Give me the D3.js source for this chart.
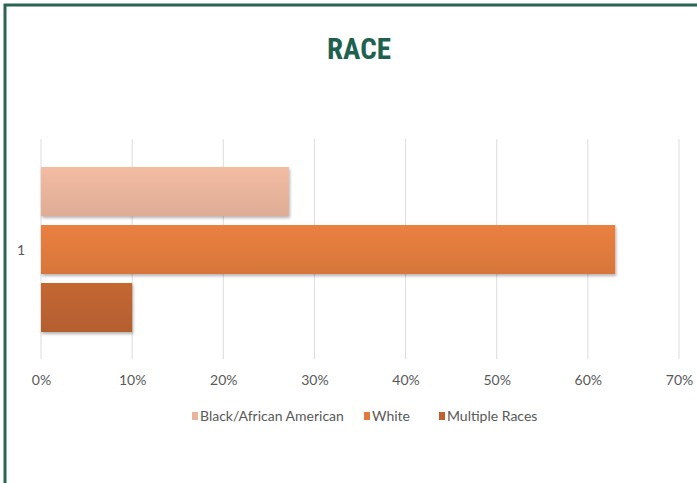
<!DOCTYPE html>
<html>
<head>
<meta charset="utf-8">
<script src="https://cdn.jsdelivr.net/npm/d3@7"></script>
<style>
  body { margin: 0; background: #fff; }
  svg { display: block; }
</style>
</head>
<body>
<svg id="chart" width="697" height="483"></svg>
<script>
var categories = ["1"];
var seriesNames = ["Black/African American", "White", "Multiple Races"];
var seriesValues = [0.272, 0.63, 0.10];
var seriesColors = ["#e9b49c", "#e07b3d", "#bc6331"];
var tickValues = [0, 0.1, 0.2, 0.3, 0.4, 0.5, 0.6, 0.7];

var svg = d3.select("#chart");

// frame (only left + top edges show)
svg.append("path")
    .attr("d", "M5,483 V5 H697")
    .attr("fill", "none")
    .attr("stroke", "#2a6553")
    .attr("stroke-width", 3);

svg.append("text")
    .attr("x", 359)
    .attr("y", 59)
    .attr("text-anchor", "middle")
    .style("font-family", "'Liberation Sans Narrow', 'Roboto Condensed', sans-serif")
    .style("font-weight", "bold")
    .style("font-size", "29px")
    .style("fill", "#1f6150")
    .text("RACE");

var x = d3.scaleLinear().domain([0, 0.7]).range([41, 679]);
var y0 = d3.scaleBand().domain(categories).range([167, 332]);
var y1 = d3.scaleBand().domain(seriesNames).range([0, y0.bandwidth()]).paddingInner(0.155);

var defs = svg.append("defs");
seriesColors.forEach(function(c, i) {
    var g = defs.append("linearGradient")
        .attr("id", "grad" + i)
        .attr("x1", 0).attr("y1", 0).attr("x2", 0).attr("y2", 1);
    g.append("stop").attr("offset", "0%").attr("stop-color", d3.color(c).brighter(0.12));
    g.append("stop").attr("offset", "100%").attr("stop-color", d3.color(c).darker(0.12));
});
var shadow = defs.append("filter").attr("id", "shadow")
    .attr("x", "-5%").attr("y", "-20%").attr("width", "110%").attr("height", "150%");
shadow.append("feDropShadow")
    .attr("dx", 1).attr("dy", 2).attr("stdDeviation", 1.5)
    .attr("flood-color", "#000").attr("flood-opacity", 0.3);

// gridlines
svg.append("g")
    .selectAll("line")
    .data(tickValues)
    .enter()
    .append("line")
    .attr("x1", function(d) { return x(d); })
    .attr("x2", function(d) { return x(d); })
    .attr("y1", 139)
    .attr("y2", 359)
    .attr("stroke", "#dcdcdc")
    .attr("stroke-width", 1);

// bars
var rows = seriesNames.map(function(n, i) { return {name: n, value: seriesValues[i], i: i}; });
svg.append("g")
    .selectAll("rect")
    .data(rows)
    .enter()
    .append("rect")
    .attr("x", x(0))
    .attr("y", function(d) { return y0("1") + y1(d.name); })
    .attr("width", function(d) { return x(d.value) - x(0); })
    .attr("height", y1.bandwidth())
    .attr("fill", function(d) { return "url(#grad" + d.i + ")"; })
    .attr("filter", "url(#shadow)");

// x axis labels
var xAxis = d3.axisBottom(x)
    .tickValues(tickValues)
    .tickFormat(d3.format(".0%"))
    .tickSize(0)
    .tickPadding(0);
var gx = svg.append("g")
    .attr("transform", "translate(0,385)")
    .call(xAxis);
gx.select(".domain").remove();
gx.selectAll("text")
    .attr("dy", 0)
    .style("font-family", "Lato, sans-serif")
    .style("font-size", "14px")
    .style("fill", "#595959");

// category label
svg.append("text")
    .attr("x", 21)
    .attr("y", y0("1") + y0.bandwidth() / 2 + 5)
    .attr("text-anchor", "middle")
    .style("font-family", "Lato, sans-serif")
    .style("font-size", "14px")
    .style("fill", "#595959")
    .text(categories[0]);

// legend
var legendX = [192, 364, 439];
var legend = svg.append("g")
    .selectAll("g")
    .data(rows)
    .enter()
    .append("g")
    .attr("transform", function(d) { return "translate(" + legendX[d.i] + ",412)"; });
legend.append("rect")
    .attr("width", 6).attr("height", 8)
    .attr("fill", function(d) { return seriesColors[d.i]; });
legend.append("text")
    .attr("x", 8)
    .attr("y", 9)
    .style("font-family", "Lato, sans-serif")
    .style("font-size", "14px")
    .style("fill", "#595959")
    .text(function(d) { return d.name; });
</script>
</body>
</html>
